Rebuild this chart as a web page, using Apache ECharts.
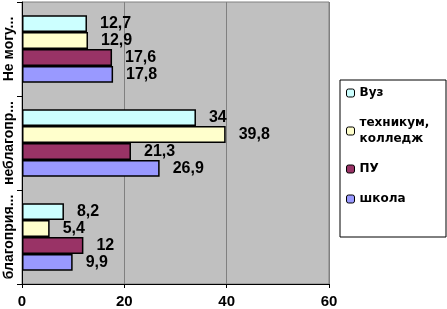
<!DOCTYPE html>
<html>
<head>
<meta charset="utf-8">
<script src="https://cdn.jsdelivr.net/npm/echarts@6/dist/echarts.min.js"></script>
<style>
  html, body { margin: 0; padding: 0; background: #fff; }
  #chart { width: 447px; height: 309px; }
</style>
</head>
<body>
<div id="chart"></div>
<script>
// категории снизу вверх (ось Y в ECharts идёт снизу)
var categories = ["благоприя...", "неблагопр...", "Не могу..."];
var seriesNames = ["Вуз", "техникум,\nколледж", "ПУ", "школа"];
var vuz = [8.2, 34, 12.7];
var tehnikum = [5.4, 39.8, 12.9];
var pu = [12, 21.3, 17.6];
var shkola = [9.9, 26.9, 17.8];
var xTicks = [0, 20, 40, 60];

var colors = ["#CCFFFF", "#FFFFCC", "#993366", "#9999FF"];
var values = [vuz, tehnikum, pu, shkola];

var chart = echarts.init(document.getElementById("chart"));

function makeSeries(i) {
  return {
    name: seriesNames[i],
    type: "bar",
    barGap: "0%",
    barCategoryGap: "28%",
    data: values[i],
    itemStyle: {
      color: colors[i],
      borderColor: "#000",
      borderWidth: 1.5
    },
    label: {
      show: true,
      position: "right",
      distance: 13,
      color: "#000",
      fontFamily: "Arial, 'Liberation Sans'",
      fontWeight: "bold",
      fontSize: 16,
      formatter: function (p) {
        return String(p.value).replace(".", ",");
      }
    }
  };
}

chart.setOption({
  animation: false,
  backgroundColor: "#fff",
  grid: {
    left: 22,
    right: 118,
    top: 2,
    bottom: 25,
    show: true,
    backgroundColor: "#C0C0C0",
    borderColor: "#808080",
    borderWidth: 1
  },
  graphic: [
    {
      type: "rect",
      shape: { x: 340, y: 80, width: 106, height: 157 },
      style: { fill: "#fff", stroke: "#000", lineWidth: 1 },
      z: 0
    }
  ],
  legend: {
    orient: "vertical",
    left: 342,
    top: 80,
    padding: [5, 4, 6, 4],
    itemWidth: 8,
    itemHeight: 8,
    itemGap: 14,
    data: seriesNames,
    itemStyle: { borderColor: "#000", borderWidth: 1 },
    textStyle: {
      color: "#000",
      fontFamily: "'DejaVu Sans', Arial",
      fontWeight: "bold",
      fontSize: 12,
      lineHeight: 16
    },
    z: 5
  },
  xAxis: {
    type: "value",
    min: xTicks[0],
    max: xTicks[xTicks.length - 1],
    interval: 20,
    axisLine: { show: true, lineStyle: { color: "#000", width: 1 } },
    axisTick: { show: true, length: 4, lineStyle: { color: "#000" } },
    axisLabel: {
      color: "#000",
      margin: 10,
      fontFamily: "Arial, 'Liberation Sans'",
      fontWeight: "bold",
      fontSize: 15
    },
    splitLine: { show: true, lineStyle: { color: "#808080", width: 1 } }
  },
  yAxis: {
    type: "category",
    data: categories,
    axisLine: { show: true, lineStyle: { color: "#000", width: 1 } },
    axisTick: { show: true, length: 5, lineStyle: { color: "#000" } },
    axisLabel: {
      interval: 0,
      rotate: 90,
      margin: 6,
      color: "#000",
      fontFamily: "Arial, 'Liberation Sans'",
      fontWeight: "bold",
      fontSize: 14
    }
  },
  series: [0, 1, 2, 3].map(makeSeries)
});
</script>
</body>
</html>
